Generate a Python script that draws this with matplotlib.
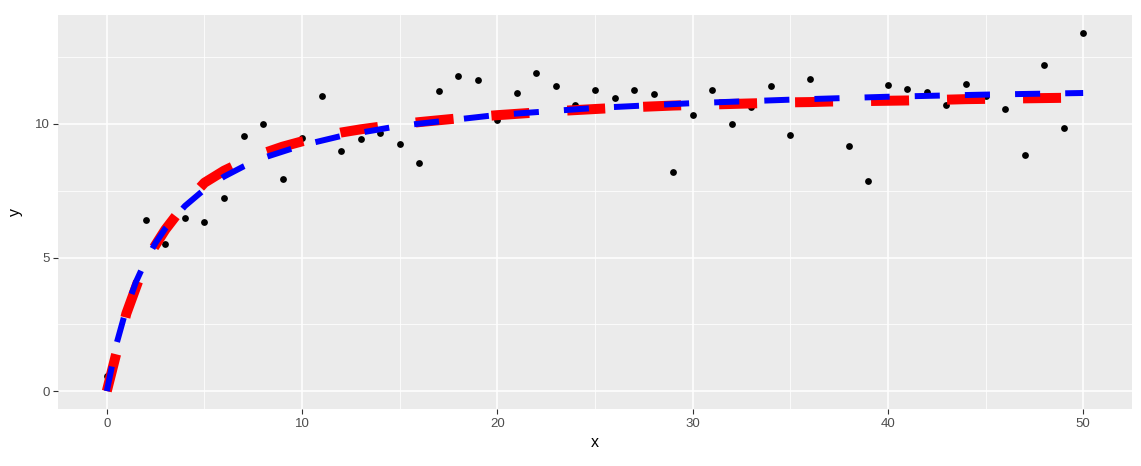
import matplotlib
matplotlib.use("Agg")
import matplotlib.pyplot as plt
import numpy as np

plt.rcParams['font.family'] = ['Liberation Sans', 'DejaVu Sans']

# observed points
x_obs = list(range(0, 51))
y_obs = [0.57, 3.0, 6.39, 5.5, 6.48, 6.33, 7.24, 9.55, 9.99, 7.95,
         9.46, 11.06, 8.99, 9.45, 9.66, 9.25, 8.54, 11.24, 11.8, 11.65,
         10.14, 11.15, 11.91, 11.41, 10.71, 11.26, 10.99, 11.26, 11.11, 8.19,
         10.35, 11.26, 9.99, 10.64, 11.41, 9.6, 11.67, 10.95, 9.16, 7.87,
         11.47, 11.32, 11.2, 10.7, 11.5, 11.05, 10.57, 8.84, 12.21, 9.86,
         13.41]

# red fitted values at each x
y_red = [0.0, 2.9, 4.9, 6.05, 7.0, 7.8, 8.25, 8.6, 8.9, 9.15,
         9.35, 9.52, 9.68, 9.8, 9.9, 9.99, 10.07, 10.14, 10.21, 10.27,
         10.33, 10.38, 10.43, 10.48, 10.52, 10.56, 10.6, 10.63, 10.66, 10.69,
         10.71, 10.73, 10.75, 10.77, 10.79, 10.81, 10.82, 10.84, 10.85, 10.86,
         10.87, 10.88, 10.9, 10.91, 10.93, 10.94, 10.95, 10.96, 10.97, 10.98,
         10.99]

# blue smooth curve
x_blue = [0, 0.5, 1, 1.5, 2, 2.5, 3, 4, 5, 6, 7, 8, 10, 12, 15, 20, 25, 30, 35, 40, 45, 50]
y_blue = [0.0, 1.78, 3.09, 4.10, 4.90, 5.55, 6.09, 6.93, 7.55, 8.03, 8.41, 8.73,
          9.20, 9.55, 9.93, 10.34, 10.60, 10.78, 10.91, 11.02, 11.10, 11.16]

fig = plt.figure(figsize=(11.41, 4.66), dpi=100)
ax = fig.add_axes([58 / 1141, 1 - 409 / 466, (1132 - 58) / 1141, (409 - 15) / 466])
ax.set_facecolor("#EBEBEB")

ax.scatter(x_obs, y_obs, s=24, color="black", zorder=3, linewidths=0)
ax.plot(x_obs, y_red, color="red", lw=7.2, dashes=[3.8, 3.8],
        solid_capstyle="butt", dash_capstyle="butt", zorder=4)
ax.plot(x_blue, y_blue, color="blue", lw=4.3, dashes=[4.2, 4.2],
        solid_capstyle="butt", dash_capstyle="butt", zorder=5)

ax.set_xlim(-2.5, 52.5)
ax.set_ylim(-0.67, 14.08)
ax.set_xticks([0, 10, 20, 30, 40, 50])
ax.set_yticks([0, 5, 10])
ax.set_xticks([5, 15, 25, 35, 45], minor=True)
ax.set_yticks([2.5, 7.5, 12.5], minor=True)
ax.grid(which="major", color="white", lw=1.1)
ax.grid(which="minor", color="white", lw=0.55)
ax.set_axisbelow(True)
for s in ax.spines.values():
    s.set_visible(False)
ax.tick_params(which="major", length=3.7, width=0.8, color="#333333",
               labelcolor="#4D4D4D", labelsize=9.5, pad=2.5)
ax.tick_params(which="minor", length=0)

ax.set_xlabel("x", fontsize=11.5, labelpad=4)
ax.set_ylabel("y", fontsize=11.5, labelpad=8)

plt.savefig("out.png", dpi=100)
plt.close()
